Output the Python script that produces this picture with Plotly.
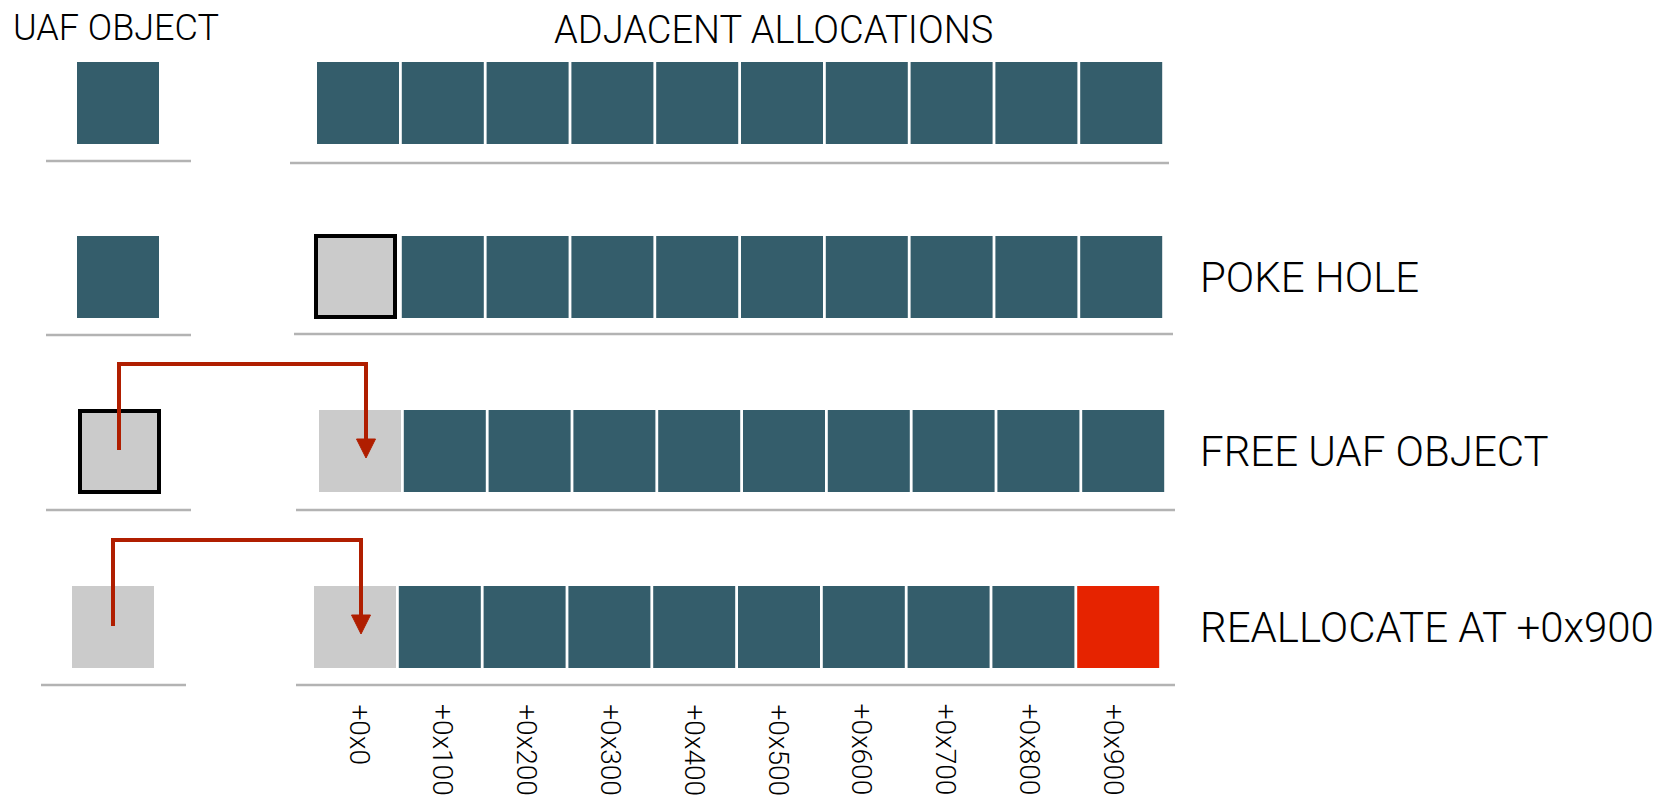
import plotly.graph_objects as go

# ---------------- data ----------------
offsets = ["+0x0", "+0x100", "+0x200", "+0x300", "+0x400",
           "+0x500", "+0x600", "+0x700", "+0x800", "+0x900"]
step_labels = ["", "POKE HOLE", "FREE UAF OBJECT", "REALLOCATE AT +0x900"]
uaf_states = ["alloc", "alloc", "freed_hl", "freed"]
row1_cells = ["alloc"] * 10
row2_cells = ["hole"] + ["alloc"] * 9
row3_cells = ["freed"] + ["alloc"] * 9
row4_cells = ["freed"] + ["alloc"] * 8 + ["realloc"]
cell_rows = [row1_cells, row2_cells, row3_cells, row4_cells]
arrow_rows = [2, 3]          # rows where the UAF object is redirected to +0x0
arrow_target_cell = [0, 0]

# ---------------- layout / style ----------------
W, H = 1673, 803
PAD = 8   # page body margin
TEAL = "#345d6b"
GRAY = "#cbcbcb"
RED = "#e62300"
ARROW = "#b01e00"
LINE = "#b3b3b3"
FONT = "Roboto"
WEIGHT = 300

row_top = [62, 236, 410, 586]
uaf_x0 = [77, 77, 78, 72]
cells_x0 = [317, 317, 319, 314]
pitch = 84.8
size = 82
label_x0 = 359
label_pitch = 83.9
left_line_x = [(46, 191), (46, 191), (46, 191), (41, 186)]
left_line_y = [161, 335, 510, 685]
right_line_x = [(290, 1169), (294, 1173), (296, 1175), (296, 1175)]
right_line_y = [163, 334, 510, 685]

fill_of = {"alloc": TEAL, "hole": GRAY, "freed": GRAY, "freed_hl": GRAY, "realloc": RED}
bordered = {"hole", "freed_hl"}

shapes = []

def box(x0, y0, state):
    bd = state in bordered
    if state == "hole":
        x0 -= 3
        y0 -= 1
    shapes.append(dict(type="rect", xref="x", yref="y", layer="below",
                       x0=x0 + (2 if bd else 0), x1=x0 + size - (1 if bd else 0),
                       y0=y0 + (1 if bd else 0), y1=y0 + size,
                       fillcolor=fill_of[state],
                       line=dict(color="black", width=4 if bd else 0)))

for r in range(4):
    box(uaf_x0[r], row_top[r], uaf_states[r])
    for i, st in enumerate(cell_rows[r]):
        box(cells_x0[r] + i * pitch, row_top[r], st)
    shapes.append(dict(type="line", xref="x", yref="y", layer="below",
                       x0=left_line_x[r][0], x1=left_line_x[r][1],
                       y0=left_line_y[r], y1=left_line_y[r],
                       line=dict(color=LINE, width=2.5)))
    shapes.append(dict(type="line", xref="x", yref="y", layer="below",
                       x0=right_line_x[r][0], x1=right_line_x[r][1],
                       y0=right_line_y[r], y1=right_line_y[r],
                       line=dict(color=LINE, width=2.5)))

fig = go.Figure()

# arrows
for r, c in zip(arrow_rows, arrow_target_cell):
    sx = uaf_x0[r] + size / 2
    tx = cells_x0[r] + c * pitch + size / 2 + 6
    top = row_top[r]
    ytop = top - 46
    fig.add_trace(go.Scatter(x=[sx, sx, tx, tx], y=[top + 40, ytop, ytop, top + 30],
                             mode="lines", line=dict(color=ARROW, width=4),
                             hoverinfo="skip", showlegend=False))
    fig.add_trace(go.Scatter(x=[tx - 9.5, tx + 9.5, tx, tx - 9.5],
                             y=[top + 29, top + 29, top + 48, top + 29],
                             mode="lines", fill="toself", fillcolor=ARROW,
                             line=dict(color=ARROW, width=1),
                             hoverinfo="skip", showlegend=False))

def fnt(sz):
    return dict(size=sz, color="black", family=FONT, weight=WEIGHT)

annotations = [
    dict(text="UAF OBJECT", x=11, y=28, xanchor="left", yanchor="middle", font=fnt(36)),
    dict(text="ADJACENT ALLOCATIONS", x=773, y=30, xanchor="center", yanchor="middle",
         font=fnt(38)),
]
for r in range(1, 4):
    annotations.append(dict(text=step_labels[r], x=1198, y=row_top[r] + 41,
                            xanchor="left", yanchor="middle", font=fnt(42)))
for i, t in enumerate(offsets):
    annotations.append(dict(text=t, x=label_x0 + i * label_pitch, y=702,
                            xanchor="center", yanchor="top", textangle=90,
                            font=fnt(28)))
for a in annotations:
    a.update(xref="x", yref="y", showarrow=False)

fig.update_layout(
    width=W - PAD, height=H - PAD, margin=dict(l=0, r=0, t=0, b=0),
    paper_bgcolor="white", plot_bgcolor="white",
    xaxis=dict(range=[PAD, W], visible=False, fixedrange=True),
    yaxis=dict(range=[H, PAD], visible=False, fixedrange=True),
    shapes=shapes, annotations=annotations, showlegend=False,
)
fig.write_html("out.html")
